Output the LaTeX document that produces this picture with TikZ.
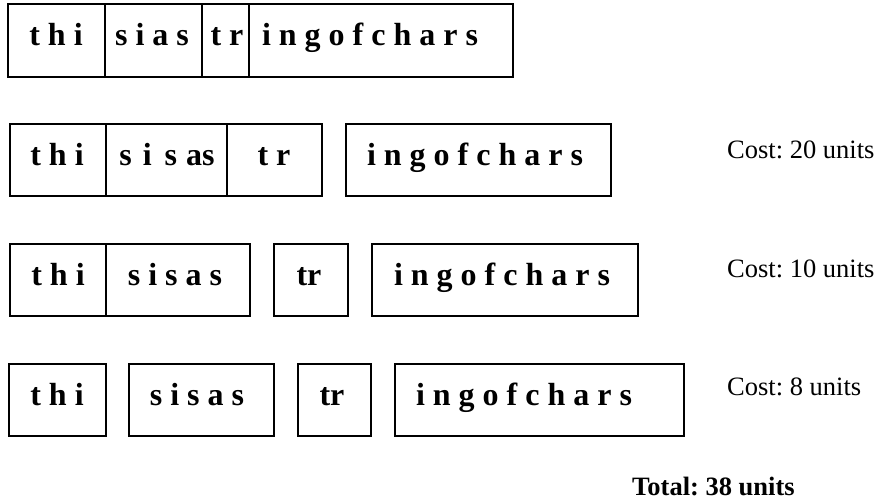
\documentclass[tikz,border=0pt]{standalone}
\usepackage{fontspec}
\setmainfont{Liberation Serif}
\frenchspacing
\begin{document}
\begin{tikzpicture}[x=1pt,y=-1pt,
  cellbox/.style={draw=black,line width=1.6pt},
  seq/.style={anchor=base,inner sep=0pt,font=\fontsize{32}{38}\selectfont\bfseries},
  cost/.style={anchor=base west,inner sep=0pt,font=\fontsize{26.5}{32}\selectfont},
  total/.style={anchor=base west,inner sep=0pt,font=\fontsize{26.5}{32}\selectfont\bfseries}]
\useasboundingbox (0,0) rectangle (877,501);
% Row 1
\draw[cellbox] (8,4) rectangle (513,77);
\draw[cellbox] (105,4) -- (105,77);
\draw[cellbox] (202,4) -- (202,77);
\draw[cellbox] (249,4) -- (249,77);
\node[seq] (r1a) at (56,45) {t h i};
\node[seq] (r1b) at (152,45) {s i a s};
\node[seq] (r1c) at (227,45) {t r};
\node[seq] (r1d) at (370,45) {i n g o f c h a r s};
% Row 2
\draw[cellbox] (10,124) rectangle (322,196);
\draw[cellbox] (106,124) -- (106,196);
\draw[cellbox] (227,124) -- (227,196);
\draw[cellbox] (346,124) rectangle (611,196);
\node[seq] (r2a) at (57,165) {t h i};
\node[seq] (r2b) at (167,165) {s\hspace{11pt}i\hspace{13pt}s\hspace{9pt}as};
\node[seq] (r2c) at (274,165) {t r};
\node[seq] (r2d) at (475,165) {i n g o f c h a r s};
\node[cost] (c1) at (727,158) {Cost: 20 units};
% Row 3
\draw[cellbox] (10,244) rectangle (250,316);
\draw[cellbox] (106,244) -- (106,316);
\draw[cellbox] (274,244) rectangle (348,316);
\draw[cellbox] (372,244) rectangle (638,316);
\node[seq] (r3a) at (58,285) {t h i};
\node[seq] (r3b) at (175,285) {s i s a s};
\node[seq] (r3c) at (309,285) {tr};
\node[seq] (r3d) at (502,285) {i n g o f c h a r s};
\node[cost] (c2) at (727,277) {Cost: 10 units};
% Row 4
\draw[cellbox] (9,364) rectangle (106,436);
\draw[cellbox] (129,364) rectangle (274,436);
\draw[cellbox] (298,364) rectangle (371,436);
\draw[cellbox] (395,364) rectangle (684,436);
\node[seq] (r4a) at (57,405) {t h i};
\node[seq] (r4b) at (197,405) {s i s a s};
\node[seq] (r4c) at (332,405) {tr};
\node[seq] (r4d) at (524,405) {i n g o f c h a r s};
\node[cost] (c3) at (727,395) {Cost: 8 units};
% Total
\node[total] (tot) at (632,495) {Total: 38 units};
\end{tikzpicture}
\end{document}
